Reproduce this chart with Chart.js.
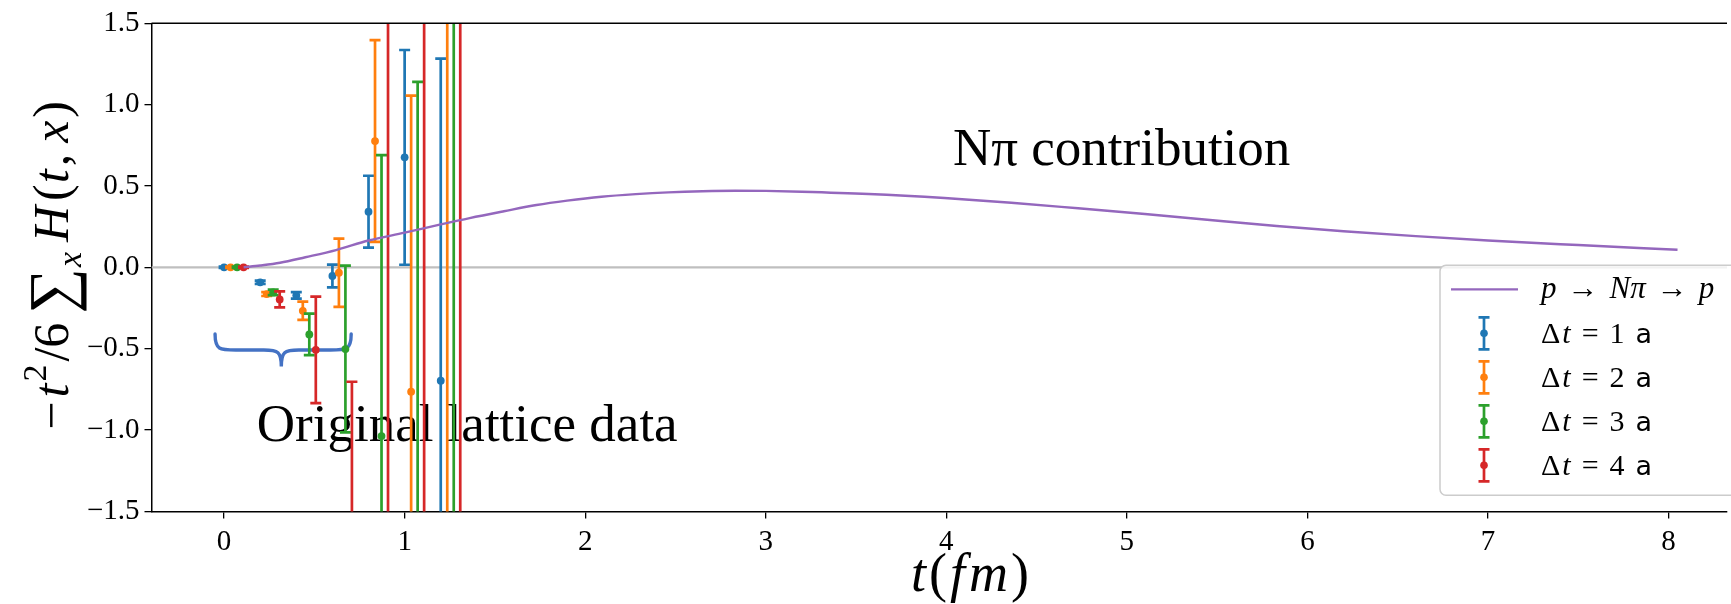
<!DOCTYPE html>
<html>
<head>
<meta charset="utf-8">
<title>N&pi; contribution</title>
<script src="https://cdn.jsdelivr.net/npm/chart.js@4.4.1/dist/chart.umd.min.js"></script>
<style>
  html, body { margin: 0; padding: 0; background: #fff; }
  canvas { display: block; }
</style>
</head>
<body>
<canvas id="chart" width="1731" height="604"></canvas>
<script>
// lattice data, one set per source-sink separation (t in fm)
const dt1T = [0, 0.2, 0.4, 0.6, 0.8, 1.0, 1.2];
const dt1Y = [0, -0.092, -0.172, -0.053, 0.342, 0.676, -0.697];
const dt1Err = [0.004, 0.01, 0.02, 0.07, 0.221, 0.66, 1.98];

const dt2T = [0.036, 0.236, 0.436, 0.636, 0.836, 1.036, 1.236];
const dt2Y = [0, -0.164, -0.267, -0.033, 0.776, -0.764, 2.1];
const dt2Err = [0.004, 0.012, 0.056, 0.21, 0.62, 1.82, 4.0];

const dt3T = [0.072, 0.272, 0.472, 0.672, 0.872, 1.072, 1.272];
const dt3Y = [0, -0.154, -0.412, -0.502, -1.037, -1.75, 1.9];
const dt3Err = [0.004, 0.017, 0.127, 0.512, 1.727, 2.89, 3.6];

const dt4T = [0.108, 0.308, 0.508, 0.708, 0.908, 1.108, 1.308];
const dt4Y = [0, -0.197, -0.507, -2.3, 1.8, -1.9, 2.4];
const dt4Err = [0.004, 0.049, 0.327, 1.597, 3.6, 3.9, 4.2];

// p -> N pi -> p curve
const curveT = [0.108, 0.2, 0.31, 0.45, 0.62, 0.8, 1.0, 1.2, 1.36, 1.55, 1.73, 1.9, 2.09, 2.28, 2.46, 2.65,
  2.83, 3.0, 3.2, 3.57, 3.99, 4.36, 4.73, 5.1, 5.46, 5.83, 6.2, 6.6, 7.0, 7.5, 8.05];
const curveY = [0, 0.011, 0.028, 0.062, 0.106, 0.165, 0.213, 0.264, 0.303, 0.345, 0.383, 0.41, 0.434, 0.45,
  0.461, 0.468, 0.471, 0.47, 0.465, 0.451, 0.426, 0.397, 0.363, 0.328, 0.291, 0.254, 0.222, 0.192, 0.165, 0.137, 0.108];

const seriesNumbers = ['1', '2', '3', '4'];
const seriesColors = ['#1f77b4', '#ff7f0e', '#2ca02c', '#d62728'];
const curveColor = '#9467bd';

const xTicks = [0, 1, 2, 3, 4, 5, 6, 7, 8];
const yTicks = [-1.5, -1.0, -0.5, 0.0, 0.5, 1.0, 1.5];

// annotations (data coordinates)
const npiLabelPos = [4.037, 0.629];
const latticeLabelPos = [0.181, -1.065];
const braceT = [-0.05, 0.317, 0.704];   // left tip, cusp, right tip
const braceV = [-0.41, -0.508, -0.61];  // tips, flat part, cusp

const SERIF = "'Liberation Serif', 'Times New Roman', serif";
function font(size, italic) {
    return (italic ? 'italic ' : '') + size + 'px ' + SERIF;
}

function runsWidth(ctx, runs) {
    let w = 0;
    runs.forEach(r => {
        ctx.font = r.font;
        w += (r.gap || 0) + ctx.measureText(r.text).width;
    });
    return w;
}

function drawRuns(ctx, runs, x, y) {
    let cx = x;
    ctx.textAlign = 'left';
    ctx.textBaseline = 'alphabetic';
    runs.forEach(r => {
        cx += r.gap || 0;
        ctx.font = r.font;
        ctx.fillText(r.text, cx, y + (r.dy || 0));
        cx += ctx.measureText(r.text).width;
    });
}

function drawErrorBar(ctx, px, top, bot, cap) {
    ctx.beginPath();
    ctx.moveTo(px, top); ctx.lineTo(px, bot);
    ctx.moveTo(px - cap, top); ctx.lineTo(px + cap, top);
    ctx.moveTo(px - cap, bot); ctx.lineTo(px + cap, bot);
    ctx.stroke();
}

function clipArea(ctx, a) {
    ctx.beginPath();
    ctx.rect(a.left, a.top, a.right - a.left, a.bottom - a.top);
    ctx.clip();
}

// error bars go right under each dataset's own dots
const errorBarPlugin = {
    id: 'errorBars',
    beforeDatasetDraw(chart, args) {
        const ds = chart.data.datasets[args.index];
        if (!ds.errors) return;
        const { ctx, chartArea, scales: { x, y } } = chart;
        ctx.save();
        clipArea(ctx, chartArea);
        ctx.strokeStyle = ds.backgroundColor;
        ctx.lineWidth = 2.7;
        ds.data.forEach((p, i) => {
            const e = ds.errors[i];
            drawErrorBar(ctx, x.getPixelForValue(p.x), y.getPixelForValue(p.y + e), y.getPixelForValue(p.y - e), 5.5);
        });
        ctx.restore();
    }
};

// zero line, brace and text notes sit below the data
const backdropPlugin = {
    id: 'backdrop',
    beforeDatasetsDraw(chart) {
        const { ctx, chartArea, scales: { x, y } } = chart;
        ctx.save();
        clipArea(ctx, chartArea);

        ctx.strokeStyle = '#bfbfbf';
        ctx.lineWidth = 2.2;
        ctx.beginPath();
        ctx.moveTo(chartArea.left, y.getPixelForValue(0));
        ctx.lineTo(chartArea.right, y.getPixelForValue(0));
        ctx.stroke();

        // curly brace under the early points
        const xl = x.getPixelForValue(braceT[0]), xc = x.getPixelForValue(braceT[1]), xr = x.getPixelForValue(braceT[2]);
        const yt = y.getPixelForValue(braceV[0]), yf = y.getPixelForValue(braceV[1]), yc = y.getPixelForValue(braceV[2]);
        const r = yf - yt;
        ctx.strokeStyle = '#4472c4';
        ctx.lineWidth = 3.4;
        ctx.lineCap = 'round';
        ctx.beginPath();
        ctx.moveTo(xl, yt);
        ctx.bezierCurveTo(xl, yf, xl + r * 0.3, yf, xl + r * 1.3, yf);
        ctx.lineTo(xc - r * 1.1, yf);
        ctx.bezierCurveTo(xc - r * 0.2, yf, xc, yf + 2, xc, yc);
        ctx.bezierCurveTo(xc, yf + 2, xc + r * 0.2, yf, xc + r * 1.1, yf);
        ctx.lineTo(xr - r * 1.3, yf);
        ctx.bezierCurveTo(xr - r * 0.3, yf, xr, yf, xr, yt);
        ctx.stroke();

        ctx.fillStyle = '#000';
        ctx.textAlign = 'left';
        ctx.textBaseline = 'alphabetic';
        ctx.font = font(53);
        ctx.fillText('N\u03c0 contribution', x.getPixelForValue(npiLabelPos[0]), y.getPixelForValue(npiLabelPos[1]));
        ctx.fillText('Original lattice data', x.getPixelForValue(latticeLabelPos[0]), y.getPixelForValue(latticeLabelPos[1]));
        ctx.restore();
    },
    afterDraw(chart) {
        const { ctx, chartArea } = chart;
        ctx.save();
        // top spine
        ctx.strokeStyle = '#000';
        ctx.lineWidth = 1.5;
        ctx.beginPath();
        ctx.moveTo(chartArea.left, chartArea.top);
        ctx.lineTo(chartArea.right, chartArea.top);
        ctx.stroke();

        // y axis title
        ctx.fillStyle = '#000';
        const yRuns = [
            { text: '\u2212', font: font(50) },
            { text: 't', font: font(50, true), gap: 4 },
            { text: '2', font: font(34), dy: -22, gap: 2 },
            { text: '/6', font: font(50), gap: 3 },
            { text: '\u2211', font: font(64), gap: 9, dy: 5 },
            { text: 'x', font: font(34, true), dy: 13, gap: 1 },
            { text: 'H', font: font(50, true), gap: 10 },
            { text: '(', font: font(50), gap: 5 },
            { text: 't', font: font(50, true), gap: 1 },
            { text: ',', font: font(50), gap: 3 },
            { text: 'x', font: font(50, true), gap: 11 },
            { text: ')', font: font(50), gap: 3 }
        ];
        ctx.save();
        ctx.translate(68, (chartArea.top + chartArea.bottom) / 2 - 2);
        ctx.rotate(-Math.PI / 2);
        drawRuns(ctx, yRuns, -runsWidth(ctx, yRuns) / 2, 0);
        ctx.restore();

        // x axis title
        const xRuns = [
            { text: 't', font: font(54, true) },
            { text: '(', font: font(54), gap: 3 },
            { text: 'f', font: font(54, true), gap: 3 },
            { text: 'm', font: font(54, true), gap: 4 },
            { text: ')', font: font(54), gap: 3 }
        ];
        drawRuns(ctx, xRuns, 970 - runsWidth(ctx, xRuns) / 2, 591);

        drawLegend(ctx, chartArea);
        ctx.restore();
    }
};

function drawLegend(ctx, area) {
    const left = area.right - 287;
    const top = area.top + 242;
    const w = 300, h = 230;
    ctx.save();
    ctx.fillStyle = 'rgba(255,255,255,0.8)';
    ctx.strokeStyle = '#cccccc';
    ctx.lineWidth = 1.5;
    ctx.beginPath();
    ctx.roundRect(left, top, w, h, 6);
    ctx.fill();
    ctx.stroke();

    const textX = left + 101;
    const rowY = i => top + 24 + i * 44;
    ctx.fillStyle = '#000';

    // curve entry
    ctx.strokeStyle = curveColor;
    ctx.lineWidth = 2.3;
    ctx.beginPath();
    ctx.moveTo(left + 11, rowY(0));
    ctx.lineTo(left + 78, rowY(0));
    ctx.stroke();
    drawRuns(ctx, [
        { text: 'p', font: font(31, true) },
        { text: '\u2192', font: font(31), gap: 11 },
        { text: 'N\u03c0', font: font(31, true), gap: 11 },
        { text: '\u2192', font: font(31), gap: 11 },
        { text: 'p', font: font(31, true), gap: 11 }
    ], textX, rowY(0) + 9);

    // error bar entries
    seriesNumbers.forEach((n, i) => {
        const cy = rowY(i + 1);
        const cx = left + 44;
        ctx.strokeStyle = seriesColors[i];
        ctx.lineWidth = 2.7;
        drawErrorBar(ctx, cx, cy - 16, cy + 16, 5.5);
        ctx.fillStyle = seriesColors[i];
        ctx.beginPath();
        ctx.arc(cx, cy, 3.8, 0, Math.PI * 2);
        ctx.fill();
        ctx.fillStyle = '#000';
        drawRuns(ctx, [
            { text: '\u0394', font: font(30) },
            { text: 't', font: font(30, true), gap: 2 },
            { text: '=', font: font(30), gap: 11 },
            { text: n, font: font(30), gap: 11 },
            { text: 'a', font: "27px 'DejaVu Sans', sans-serif", gap: 11 }
        ], textX, cy + 10);
    });
    ctx.restore();
}

function points(ts, ys) {
    return ts.map((t, i) => ({ x: t, y: ys[i] }));
}

const seriesT = [dt1T, dt2T, dt3T, dt4T];
const seriesY = [dt1Y, dt2Y, dt3Y, dt4Y];
const seriesErr = [dt1Err, dt2Err, dt3Err, dt4Err];

const datasets = [{
    type: 'line',
    label: 'p \u2192 N\u03c0 \u2192 p',
    data: points(curveT, curveY),
    borderColor: curveColor,
    borderWidth: 2.4,
    pointRadius: 0,
    cubicInterpolationMode: 'monotone',
    order: 0
}];
seriesNumbers.forEach((n, i) => {
    datasets.push({
        type: 'scatter',
        label: '\u0394t = ' + n + ' a',
        data: points(seriesT[i], seriesY[i]),
        errors: seriesErr[i],
        backgroundColor: seriesColors[i],
        borderColor: seriesColors[i],
        pointRadius: 3.9,
        pointBorderWidth: 0,
        // later series drawn on top
        order: 4 - i
    });
});

const axisBorder = { display: true, color: '#000', width: 1.5 };
const axisGrid = { drawOnChartArea: false, drawTicks: true, tickLength: 7, color: '#000', lineWidth: 1.3 };
const tickFont = { family: SERIF, size: 29 };

new Chart(document.getElementById('chart').getContext('2d'), {
    type: 'scatter',
    data: { datasets: datasets },
    options: {
        responsive: false,
        animation: false,
        layout: { padding: { top: 23.3, right: 0, left: 0, bottom: 0 } },
        plugins: {
            legend: { display: false },
            tooltip: { enabled: false }
        },
        scales: {
            x: {
                type: 'linear',
                min: -0.402,
                max: 8.324,
                border: axisBorder,
                grid: axisGrid,
                ticks: { color: '#000', font: tickFont, padding: 7, maxRotation: 0 },
                afterBuildTicks: s => { s.ticks = xTicks.map(v => ({ value: v })); },
                afterFit: s => { s.height = 92.6; }
            },
            y: {
                type: 'linear',
                min: -1.5,
                max: 1.5,
                border: axisBorder,
                grid: axisGrid,
                ticks: {
                    color: '#000',
                    font: tickFont,
                    padding: 5,
                    callback: v => (v < 0 ? '\u2212' : '') + Math.abs(v).toFixed(1)
                },
                afterBuildTicks: s => { s.ticks = yTicks.map(v => ({ value: v })); },
                afterFit: s => { s.width = 151.5; }
            }
        }
    },
    plugins: [backdropPlugin, errorBarPlugin]
});
</script>
</body>
</html>
